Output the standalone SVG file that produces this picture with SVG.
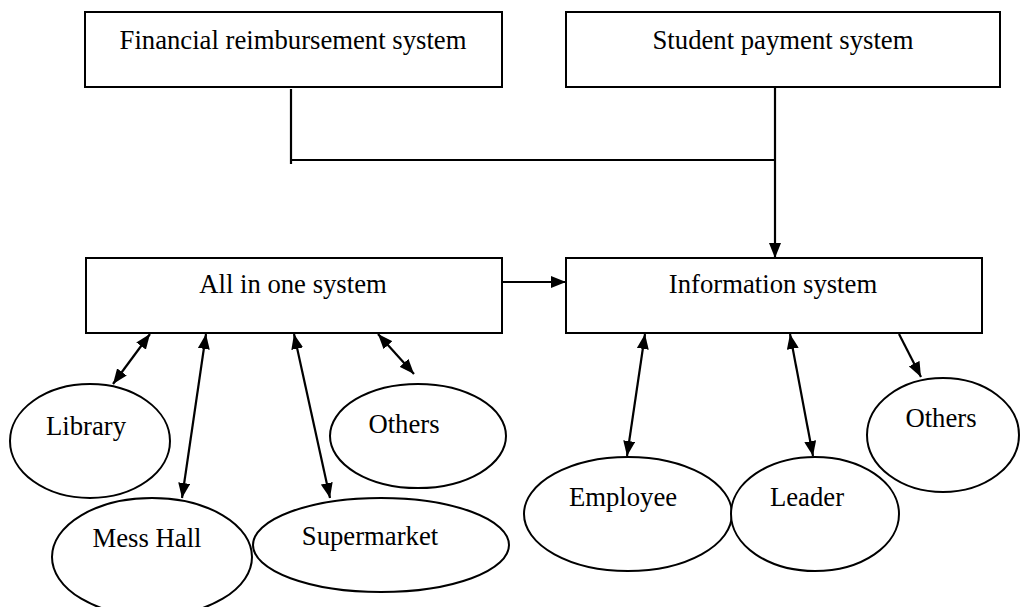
<svg xmlns="http://www.w3.org/2000/svg" width="1020" height="607" viewBox="0 0 1020 607">
<style>
.box{fill:#fff;stroke:#000;stroke-width:2}
.ell{fill:#fff;stroke:#000;stroke-width:2}
.lbl{font-family:"Liberation Serif","Times New Roman",serif;font-size:26.7px;fill:#000;text-anchor:middle}
.ln{fill:none;stroke:#000;stroke-width:2.2}
</style>
<defs>
<marker id="ah" markerUnits="userSpaceOnUse" markerWidth="16" markerHeight="12" viewBox="0 0 16 12" refX="15" refY="6" orient="auto-start-reverse">
<path d="M0,0 L15,6 L0,12 z" fill="#000"/>
</marker>
</defs>
<rect width="1020" height="607" fill="#fff"/>
<g id="n-financial"><rect class="box" x="85" y="12" width="417" height="75"/><text class="lbl" x="293" y="49">Financial reimbursement system</text></g>
<g id="n-student"><rect class="box" x="566" y="12" width="434" height="75"/><text class="lbl" x="783" y="49">Student payment system</text></g>
<g id="n-allinone"><rect class="box" x="86" y="258" width="416" height="75"/><text class="lbl" x="293" y="293">All in one system</text></g>
<g id="n-info"><rect class="box" x="566" y="258" width="416" height="75"/><text class="lbl" x="773" y="293">Information system</text></g>
<g id="n-library"><ellipse class="ell" cx="90" cy="441" rx="80" ry="57"/><text class="lbl" x="86" y="435">Library</text></g>
<g id="n-messhall"><ellipse class="ell" cx="152" cy="557" rx="100" ry="59"/><text class="lbl" x="147" y="547">Mess Hall</text></g>
<g id="n-supermarket"><ellipse class="ell" cx="381" cy="545" rx="128" ry="47"/><text class="lbl" x="370" y="545">Supermarket</text></g>
<g id="n-others1"><ellipse class="ell" cx="418" cy="436" rx="88" ry="52"/><text class="lbl" x="404" y="433">Others</text></g>
<g id="n-employee"><ellipse class="ell" cx="628" cy="514" rx="104" ry="57"/><text class="lbl" x="623" y="506">Employee</text></g>
<g id="n-leader"><ellipse class="ell" cx="815" cy="514" rx="84" ry="57"/><text class="lbl" x="807" y="506">Leader</text></g>
<g id="n-others2"><ellipse class="ell" cx="943" cy="435" rx="76" ry="57"/><text class="lbl" x="941" y="427">Others</text></g>
<g id="connectors">
<path class="ln" d="M291,89 V164 M291,160 H775"/>
<path class="ln" d="M775,87 V258" marker-end="url(#ah)"/>
<path class="ln" d="M502,282 H566" marker-end="url(#ah)"/>
<path class="ln" d="M150,334 L113,384" marker-start="url(#ah)" marker-end="url(#ah)"/>
<path class="ln" d="M206,334 L182,498" marker-start="url(#ah)" marker-end="url(#ah)"/>
<path class="ln" d="M294,334 L330,498" marker-start="url(#ah)" marker-end="url(#ah)"/>
<path class="ln" d="M378,334 L414,374" marker-start="url(#ah)" marker-end="url(#ah)"/>
<path class="ln" d="M645,334 L627,456" marker-start="url(#ah)" marker-end="url(#ah)"/>
<path class="ln" d="M790,334 L813,456" marker-start="url(#ah)" marker-end="url(#ah)"/>
<path class="ln" d="M899,334 L921,377" marker-end="url(#ah)"/>
</g>
</svg>
